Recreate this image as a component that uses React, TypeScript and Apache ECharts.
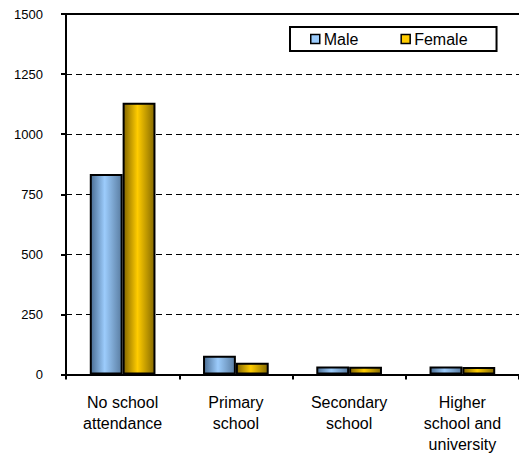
import React, { useEffect, useRef } from "react";
import * as echarts from "echarts";

const categories = [
  "No school\nattendance",
  "Primary\nschool",
  "Secondary\nschool",
  "Higher\nschool and\nuniversity",
];
const maleValues = [834, 78, 33, 33];
const femaleValues = [1131, 49, 32, 31];
const yTicks = { min: 0, max: 1500, interval: 250 };

const FONT = "Liberation Sans, Arial, sans-serif";

function grad(dark: string, light: string, dark2: string) {
  return new echarts.graphic.LinearGradient(0, 0, 1, 0, [
    { offset: 0, color: dark },
    { offset: 0.45, color: light },
    { offset: 1, color: dark2 },
  ]);
}

export default function App() {
  const ref = useRef<HTMLDivElement>(null);
  useEffect(() => {
    if (!ref.current) return;
    const chart = echarts.init(ref.current, undefined, { renderer: "svg" });
    const maleFill = grad("#4a6d93", "#9cccfc", "#5a7da2");
    const femaleFill = grad("#836600", "#ffcc00", "#866a00");
    chart.setOption({
      animation: false,
      backgroundColor: "#ffffff",
      textStyle: { fontFamily: FONT },
      grid: { left: 66, right: 0, top: 14, bottom: 85.5, containLabel: false },
      legend: {
        left: 290,
        top: 27,
        orient: "horizontal",
        icon: "rect",
        itemWidth: 9,
        itemHeight: 9,
        itemGap: 42,
        padding: [4, 29, 4, 20],
        borderColor: "#000",
        borderWidth: 2,
        backgroundColor: "#fff",
        textStyle: { fontFamily: FONT, fontSize: 16, color: "#000", padding: [0, 0, 0, -1] },
        data: [
          { name: "Male", itemStyle: { color: "#9cccfc", borderColor: "#000", borderWidth: 1.5 } },
          { name: "Female", itemStyle: { color: "#ffcc00", borderColor: "#000", borderWidth: 1.5 } },
        ],
      },
      xAxis: [
        {
          type: "category",
          data: categories,
          position: "bottom",
          axisLine: { show: true, lineStyle: { color: "#000", width: 2 } },
          axisTick: { show: true, length: 5, lineStyle: { color: "#000", width: 2 } },
          axisLabel: {
            color: "#000",
            fontFamily: FONT,
            fontSize: 16,
            lineHeight: 21,
            margin: 17,
            interval: 0,
          },
        },
        {
          type: "category",
          data: categories,
          position: "top",
          axisLine: { show: true, lineStyle: { color: "#000", width: 2 } },
          axisTick: { show: false },
          axisLabel: { show: false },
        },
      ],
      yAxis: {
        type: "value",
        min: yTicks.min,
        max: yTicks.max,
        interval: yTicks.interval,
        axisLine: { show: true, lineStyle: { color: "#000", width: 2 } },
        axisTick: { show: true, length: 5, lineStyle: { color: "#000", width: 2 } },
        axisLabel: {
          color: "#000",
          fontFamily: FONT,
          fontSize: 13,
          margin: 23,
          formatter: (v: number) => String(v),
        },
        splitLine: {
          show: true,
          lineStyle: { color: "#000", width: 1, type: [6, 4] },
        },
      },
      series: [
        {
          name: "Male",
          type: "bar",
          data: maleValues,
          barGap: "0%",
          barCategoryGap: "42%",
          itemStyle: { color: maleFill, borderColor: "#000", borderWidth: 2 },
        },
        {
          name: "Female",
          type: "bar",
          data: femaleValues,
          barGap: "0%",
          barCategoryGap: "42%",
          itemStyle: { color: femaleFill, borderColor: "#000", borderWidth: 2 },
        },
      ],
    });
    return () => chart.dispose();
  }, []);
  return <div ref={ref} style={{ width: 519, height: 460, position: "absolute", left: 0, top: 0 }} />;
}
